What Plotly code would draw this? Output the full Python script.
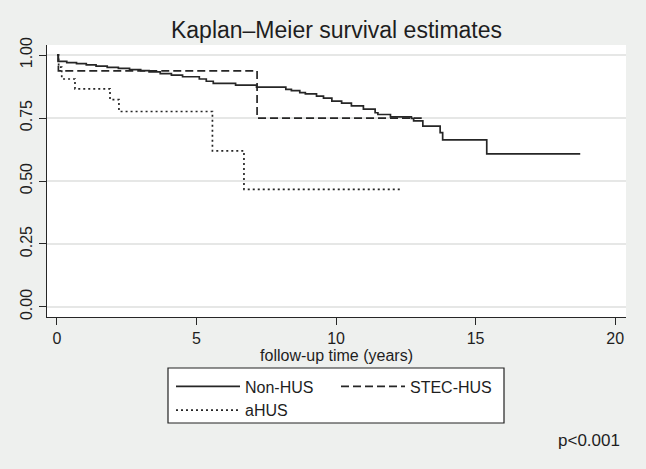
import plotly.graph_objects as go

# Non-HUS (solid)
nonhus_t = [0, 0.04, 0.35, 0.7, 1.05, 1.4, 1.8, 2.2, 2.6, 3.0, 3.3, 3.7, 4.1, 4.5, 5.1, 5.35, 5.6,
            6.4, 7.15, 8.2, 8.4, 8.7, 8.9, 9.3, 9.55, 9.85, 10.2, 10.55, 10.98, 11.4, 11.5, 11.95,
            12.7, 12.78, 13.11, 13.73, 13.82, 15.4, 18.75]
nonhus_s = [1.0, 0.975, 0.970, 0.966, 0.961, 0.956, 0.951, 0.947, 0.942, 0.938, 0.933, 0.926, 0.920,
            0.914, 0.905, 0.896, 0.888, 0.881, 0.873, 0.864, 0.859, 0.851, 0.846, 0.837, 0.829,
            0.817, 0.809, 0.798, 0.785, 0.771, 0.764, 0.755, 0.749, 0.739, 0.718, 0.692, 0.663,
            0.608, 0.608]

# STEC-HUS (dashed)
stec_t = [0, 0.05, 7.17, 13.07]
stec_s = [1.0, 0.9375, 0.75, 0.75]

# aHUS (dotted)
ahus_t = [0, 0.06, 0.17, 0.645, 1.9, 2.22, 5.57, 6.70, 12.35]
ahus_s = [1.0, 0.952, 0.905, 0.866, 0.823, 0.776, 0.620, 0.467, 0.467]

x_ticks = [0, 5, 10, 15, 20]
y_ticks = [0, 0.25, 0.5, 0.75, 1.0]
y_labels = ["0.00", "0.25", "0.50", "0.75", "1.00"]

FONT = "Arial, Liberation Sans, sans-serif"
LINE = "#262626"
TXT = "#1e1e1e"
BG = "#EEF0EE"

fig = go.Figure()
fig.add_trace(go.Scatter(x=nonhus_t, y=nonhus_s, mode="lines", line_shape="hv",
                         name="Non-HUS", line=dict(color=LINE, width=1.7), legend="legend"))
fig.add_trace(go.Scatter(x=stec_t, y=stec_s, mode="lines", line_shape="hv",
                         name="STEC-HUS", line=dict(color=LINE, width=1.7, dash="8px,4px"), legend="legend2"))
fig.add_trace(go.Scatter(x=ahus_t, y=ahus_s, mode="lines", line_shape="hv",
                         name="aHUS", line=dict(color=LINE, width=1.7, dash="2px,3px"), legend="legend"))

W, H = 646, 469
L, R, T, B = 47, 20, 45, 152
pw, ph = W - L - R, H - T - B

def px(x):
    return (x - L) / pw

def py(y):
    return (H - B - y) / ph

fig.update_layout(
    width=W, height=H,
    margin=dict(l=L, r=R, t=T, b=B, autoexpand=False),
    paper_bgcolor=BG, plot_bgcolor="white",
    font=dict(family=FONT, color=TXT),
    title=dict(text="Kaplan\u2013Meier survival estimates", font=dict(size=23, color=TXT),
               x=0.5, xref="paper", xanchor="center", y=1 - 29.5 / H, yref="container", yanchor="middle"),
    xaxis=dict(range=[-0.358, 20.39], tickvals=x_ticks, showgrid=False, zeroline=False,
               showline=True, linecolor=LINE, linewidth=1.3, ticks="outside", ticklen=7,
               tickcolor=LINE, tickwidth=1.3, tickfont=dict(size=16),
               title=dict(text="follow-up time (years)", font=dict(size=16), standoff=0)),
    yaxis=dict(range=[-0.04, 1.04], tickvals=y_ticks, ticktext=y_labels, tickangle=-90,
               showgrid=True, gridcolor="#E6E7E6", gridwidth=1.5, zeroline=False,
               showline=True, linecolor=LINE, linewidth=1.3, ticks="outside", ticklen=7,
               tickcolor=LINE, tickwidth=1.3, tickfont=dict(size=16)),
    legend=dict(orientation="v", x=px(171), xanchor="left", y=py(369.5), yanchor="top",
                bgcolor="rgba(0,0,0,0)", borderwidth=0, font=dict(size=16), itemwidth=64,
                traceorder="normal"),
    legend2=dict(orientation="v", x=px(336), xanchor="left", y=py(369.5), yanchor="top",
                 bgcolor="rgba(0,0,0,0)", borderwidth=0, font=dict(size=16), itemwidth=64),
    showlegend=True,
    shapes=[dict(type="rect", xref="paper", yref="paper", x0=px(168), x1=px(504),
                 y0=py(368), y1=py(423), line=dict(color="#222222", width=1.2), fillcolor="white",
                 layer="above")],
    annotations=[dict(text="p<0.001", xref="paper", yref="paper", x=px(622), y=py(440),
                      xanchor="right", yanchor="middle", showarrow=False, font=dict(size=17))],
)

fig.write_html("out.html")
